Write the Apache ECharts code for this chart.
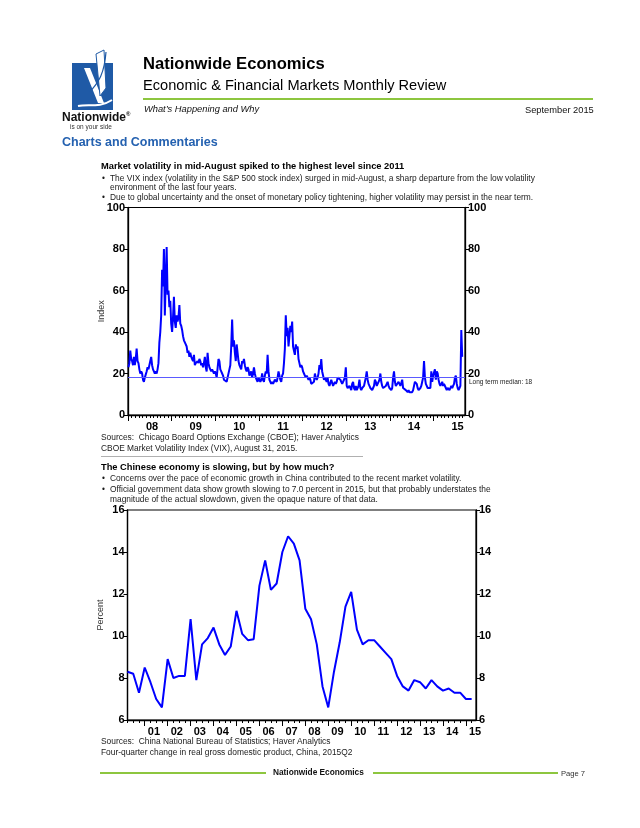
<!DOCTYPE html>
<html>
<head>
<meta charset="utf-8">
<script src="https://cdn.jsdelivr.net/npm/echarts@6/dist/echarts.min.js"></script>
<style>
  html, body { margin:0; padding:0; background:#fff; }
  #page { position:relative; width:640px; height:828px; overflow:hidden; font-family:"Liberation Sans", Arial, sans-serif; color:#1a1a1a; }
  #c { position:absolute; left:0; top:0; width:640px; height:828px; }
  .t { position:absolute; white-space:nowrap; line-height:1.2; z-index:2; }
  .b { font-size:8.4px; }
  .h { font-size:9.3px; font-weight:bold; color:#000; }
  .hr { position:absolute; z-index:2; }
</style>
</head>
<body>
<div id="page">
  <div id="c"></div>

  <!-- Logo -->
  <svg class="hr" style="left:60px;top:48px" width="80" height="70" viewBox="0 0 80 70">
    <rect x="12" y="15" width="41" height="47" fill="#1f5aa6"/>
    <polygon points="24,20 30,20 44,55 38,55" fill="#ffffff"/>
    <polygon points="36,6 44,2 46,40 40,48" fill="#ffffff" stroke="#1f5aa6" stroke-width="1"/>
    <path d="M30,44 C36,36 44,30 46,4" fill="none" stroke="#1f5aa6" stroke-width="1.2"/>
    <path d="M18,58 C28,56 40,60 52,52" fill="none" stroke="#ffffff" stroke-width="2"/>
  </svg>
  <div class="t" style="left:62px;top:110px;font-size:12px;font-weight:bold;color:#111">Nationwide<sup style="font-size:6px">®</sup></div>
  <div class="t" style="left:70px;top:123px;font-size:6.5px;color:#333">is on your side</div>

  <!-- Header -->
  <div class="t" style="left:143px;top:54px;font-size:16.6px;font-weight:bold;color:#000">Nationwide Economics</div>
  <div class="t" style="left:143px;top:76.5px;font-size:14.6px;color:#000">Economic &amp; Financial Markets Monthly Review</div>
  <div class="hr" style="left:143px;top:97.5px;width:450px;height:2.5px;background:#8dc63f"></div>
  <div class="t" style="left:144px;top:104px;font-size:9.3px;font-style:italic;color:#111">What’s Happening and Why</div>
  <div class="t" style="left:525px;top:105px;font-size:9.3px;color:#111">September 2015</div>
  <div class="t" style="left:62px;top:135px;font-size:12.5px;font-weight:bold;color:#2461b0">Charts and Commentaries</div>

  <!-- Chart 1 text -->
  <div class="t h" style="left:101px;top:161px">Market volatility in mid-August spiked to the highest level since 2011</div>
  <div class="t b" style="left:102px;top:172.7px">•</div>
  <div class="t b" style="left:110px;top:172.7px">The VIX index (volatility in the S&amp;P 500 stock index) surged in mid-August, a sharp departure from the low volatility</div>
  <div class="t b" style="left:110px;top:182.3px">environment of the last four years.</div>
  <div class="t b" style="left:102px;top:192.3px">•</div>
  <div class="t b" style="left:110px;top:192.3px">Due to global uncertainty and the onset of monetary policy tightening, higher volatility may persist in the near term.</div>
  <div class="t b" style="left:101px;top:432.3px">Sources:&nbsp; Chicago Board Options Exchange (CBOE); Haver Analytics</div>
  <div class="t b" style="left:101px;top:443.3px">CBOE Market Volatility Index (VIX), August 31, 2015.</div>
  <div class="hr" style="left:101px;top:455.5px;width:262px;height:1px;background:#b0b0b0"></div>

  <!-- Chart 2 text -->
  <div class="t h" style="left:101px;top:462px">The Chinese economy is slowing, but by how much?</div>
  <div class="t b" style="left:102px;top:473.3px">•</div>
  <div class="t b" style="left:110px;top:473.3px">Concerns over the pace of economic growth in China contributed to the recent market volatility.</div>
  <div class="t b" style="left:102px;top:484px">•</div>
  <div class="t b" style="left:110px;top:484px">Official government data show growth slowing to 7.0 percent in 2015, but that probably understates the</div>
  <div class="t b" style="left:110px;top:494px">magnitude of the actual slowdown, given the opaque nature of that data.</div>
  <div class="t b" style="left:101px;top:735.7px">Sources:&nbsp; China National Bureau of Statistics; Haver Analytics</div>
  <div class="t b" style="left:101px;top:747.3px">Four-quarter change in real gross domestic product, China, 2015Q2</div>

  <!-- Footer -->
  <div class="hr" style="left:100px;top:772px;width:166px;height:2px;background:#8dc63f"></div>
  <div class="t" style="left:273px;top:768px;font-size:8.3px;font-weight:bold;color:#111">Nationwide Economics</div>
  <div class="hr" style="left:373px;top:772px;width:185px;height:2px;background:#8dc63f"></div>
  <div class="t" style="left:561px;top:768.5px;font-size:7.6px;color:#333">Page 7</div>
</div>

<script>
// ---------------- DATA ----------------
// CBOE VIX, roughly weekly readings (4 per month), Jan 2008 - Aug 2015
const vix2008 = [23,25,31,27, 26,24,28,24, 27,32,26,25, 22,20,21,20, 17,16,18,18, 21,23,22,24,
                 26,28,24,22, 21,20,21,20, 22,25,35,40, 48,70,62,80, 48,65,81,58, 60,52,55,44];
const vix2009 = [40,47,57,45, 42,48,45,47, 53,44,43,41, 38,36,35,34, 33,30,31,28, 30,28,27,26,
                 29,24,25,25, 26,25,27,26, 24,25,23,25, 28,23,21,30, 25,23,22,21, 22,21,20,21];
const vix2010 = [20,18,18,27, 26,22,21,20, 19,17,17,17, 16,16,16,22, 24,33,46,33, 36,30,26,34,
                 30,26,24,23, 22,26,25,27, 24,22,21,23, 22,19,20,21, 18,20,23,20, 18,17,16,18];
const vix2011 = [18,16,17,20, 17,16,19,21, 20,29,21,17, 17,15,16,15, 16,17,17,16, 18,21,19,17,
                 16,19,20,25, 32,48,38,42, 33,38,43,40, 45,33,31,29, 34,32,33,27, 25,23,24,23];
const vix2012 = [21,20,19,18, 19,18,17,18, 17,15,15,15, 16,20,18,17, 18,20,24,22, 27,21,19,17,
                 18,17,16,18, 15,14,14,17, 17,14,15,16, 15,16,18,18, 18,17,16,15, 16,17,18,23];
const vix2013 = [14,13,13,14, 13,12,15,16, 13,12,14,12, 13,14,17,13, 12,13,13,14, 16,18,21,17,
                 15,14,13,13, 12,13,14,17, 16,14,14,16, 17,20,16,14, 13,13,13,14, 15,16,14,13];
const vix2014 = [13,12,13,18, 21,16,14,14, 14,16,15,14, 14,17,13,13, 13,12,12,11, 12,11,11,11,
                 11,12,12,16, 16,15,13,12, 12,13,14,16, 18,26,18,15, 14,13,13,13, 13,21,16,19];
const vix2015 = [19,22,17,21, 20,17,15,14, 15,16,14,15, 15,13,12,13, 13,12,12,14, 13,14,15,18,
                 19,15,13,12, 13,14,41,28];
const vixYears = [2008, 2009, 2010, 2011, 2012, 2013, 2014, 2015];
const vixByYear = [vix2008, vix2009, vix2010, vix2011, vix2012, vix2013, vix2014, vix2015];
const vixMedian = 18;
const vixTicks = [0, 20, 40, 60, 80, 100];

// China real GDP, four-quarter % change, 2000Q2 - 2015Q2
const gdpFirstYear = 2000, gdpFirstQuarter = 2;
const gdpValues = [8.3, 8.2, 7.3, 8.5, 7.8, 7.0, 6.6, 8.9, 8.0, 8.1, 8.1, 10.8, 7.9, 9.6, 9.9, 10.4,
                   9.6, 9.1, 9.5, 11.2, 10.1, 9.8, 9.85, 12.4, 13.6, 12.2, 12.5, 14.0, 14.75, 14.4, 13.6,
                   11.3, 10.8, 9.6, 7.6, 6.6, 8.3, 9.7, 11.4, 12.1, 10.3, 9.6, 9.8, 9.8, 9.5, 9.2, 8.9,
                   8.1, 7.6, 7.4, 7.9, 7.8, 7.5, 7.9, 7.6, 7.4, 7.5, 7.3, 7.3, 7.0, 7.0];
const gdpYearLabels = ['01','02','03','04','05','06','07','08','09','10','11','12','13','14','15'];
const gdpTicks = [6, 8, 10, 12, 14, 16];

// ---------------- BUILD ----------------
const vixData = [];
vixByYear.forEach((arr, yi) => {
  arr.forEach((v, k) => {
    const month = Math.floor(k / 4), w = k % 4;
    vixData.push([vixYears[yi] + (month + (w + 0.5) / 4) / 12, v]);
  });
});
const gdpData = gdpValues.map((v, i) => [gdpFirstYear + (gdpFirstQuarter - 1) / 4 + i / 4, v]);

const vixMin = vixYears[0], vixMax = 2015.72;
const gdpMin = gdpFirstYear + (gdpFirstQuarter - 1) / 4, gdpMax = 2015.44;

const vixLabelVals = vixYears.map(y => y + 0.55);
const vixYearTicks = vixYears.slice();
const vixMonthTicks = [];
for (let t = 0; vixMin + t / 12 <= vixMax; t++) vixMonthTicks.push(vixMin + t / 12);

const gdpLabelVals = gdpYearLabels.map(s => 2000 + parseInt(s, 10) + 0.4);
const gdpYearTicks = gdpYearLabels.map(s => 2000 + parseInt(s, 10));
const gdpQTicks = [];
for (let t = 0; gdpMin + t / 4 <= gdpMax; t++) gdpQTicks.push(gdpMin + t / 4);

const FONT = '"Liberation Sans", Arial, sans-serif';
const lbl = { fontFamily: FONT, fontSize: 11, fontWeight: 'bold', color: '#000' };
const axLine = { show: true, lineStyle: { color: '#000', width: 1.3 } };

function xAxes(gridIndex, min, max, labelVals, yearTicks, minorTicks) {
  return [
    { type: 'value', gridIndex, min, max, position: 'bottom',
      axisLine: axLine, splitLine: { show: false },
      axisTick: { show: true, length: 6, customValues: yearTicks, lineStyle: { color: '#000', width: 1 } },
      axisLabel: Object.assign({ customValues: labelVals, margin: 6,
        formatter: v => String(Math.floor(v + 1e-6)).slice(2) }, lbl) },
    { type: 'value', gridIndex, min, max, position: 'bottom',
      axisLine: { show: false }, splitLine: { show: false }, axisLabel: { show: false },
      axisTick: { show: true, length: 3, customValues: minorTicks, lineStyle: { color: '#000', width: 1 } } }
  ];
}
function yAxes(gridIndex, ticks, name) {
  const base = { type: 'value', gridIndex, min: ticks[0], max: ticks[ticks.length - 1],
    interval: ticks[1] - ticks[0], axisLine: axLine, splitLine: { show: false },
    axisTick: { show: true, length: 4, lineStyle: { color: '#000', width: 1 } },
    axisLabel: Object.assign({ margin: 3 }, lbl) };
  return [
    Object.assign({}, base, { position: 'left', name, nameLocation: 'middle', nameGap: 22,
      nameMoveOverlap: false,
      nameTextStyle: { fontFamily: FONT, fontSize: 9, color: '#333' } }),
    Object.assign({}, base, { position: 'right' })
  ];
}

const option = {
  animation: false,
  grid: [
    { left: 128, top: 207.5, width: 337, height: 207.5, show: true, borderColor: '#000', borderWidth: 1.2, backgroundColor: 'transparent' },
    { left: 127.5, top: 510, width: 348.5, height: 210, show: true, borderColor: '#000', borderWidth: 1.2, backgroundColor: 'transparent' }
  ],
  xAxis: [].concat(
    xAxes(0, vixMin, vixMax, vixLabelVals, vixYearTicks, vixMonthTicks),
    xAxes(1, gdpMin, gdpMax, gdpLabelVals, gdpYearTicks, gdpQTicks)
  ),
  yAxis: [].concat(yAxes(0, vixTicks, 'Index'), yAxes(1, gdpTicks, 'Percent')),
  series: [
    { type: 'line', xAxisIndex: 0, yAxisIndex: 0, data: vixData, showSymbol: false,
      lineStyle: { color: '#0000ff', width: 2 }, z: 3,
      markLine: { silent: true, symbol: 'none', animation: false,
        lineStyle: { color: '#5a5aff', width: 1, type: 'solid' },
        label: { show: true, position: 'end', distance: 4, offset: [0, 5],
          formatter: p => 'Long term median: ' + p.value, fontFamily: FONT, fontSize: 6.5, color: '#222' },
        data: [{ yAxis: vixMedian }] } },
    { type: 'line', xAxisIndex: 2, yAxisIndex: 2, data: gdpData, showSymbol: false,
      lineStyle: { color: '#0000ff', width: 2 }, z: 3 }
  ]
};
const chart = echarts.init(document.getElementById('c'), null, { renderer: 'canvas', width: 640, height: 828 });
chart.setOption(option);
</script>
</body>
</html>
